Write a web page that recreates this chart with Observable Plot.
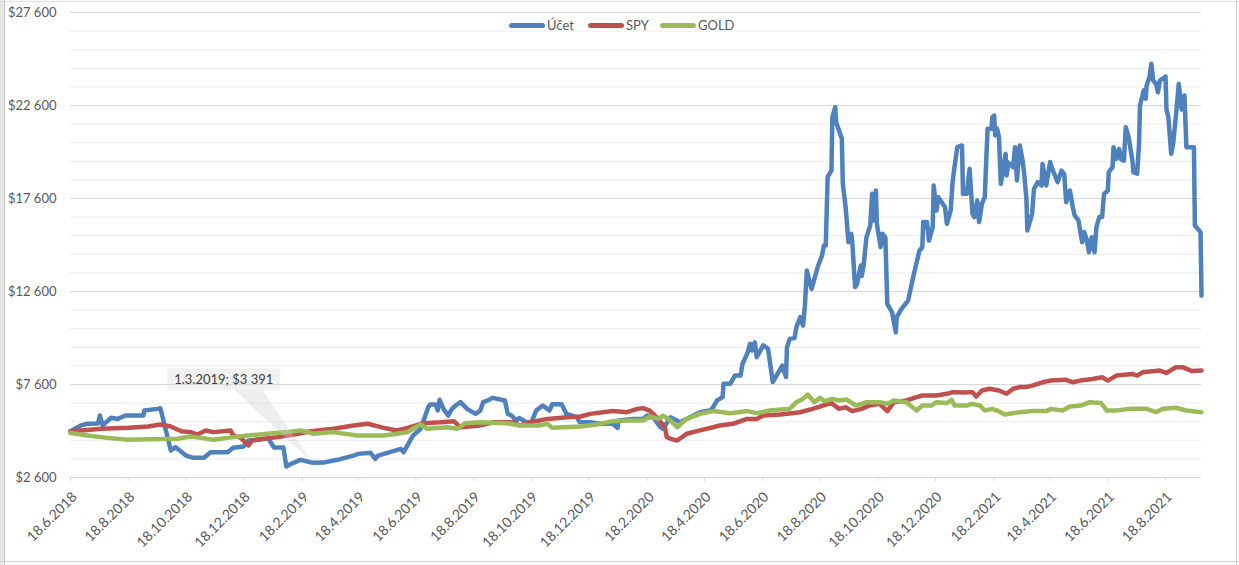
<!DOCTYPE html>
<html>
<head>
<meta charset="utf-8">
<script src="https://cdn.jsdelivr.net/npm/d3@7"></script>
<script src="https://cdn.jsdelivr.net/npm/@observablehq/plot@0.6"></script>
<style>
  body { margin: 0; background: #fff; font-family: Lato, "Open Sans", sans-serif; }
  #wrap { position: relative; width: 1239px; height: 565px; overflow: hidden; background: #fff; }
  #chart svg { position: absolute; left: 0; top: 0; }
  .legend-item { position: absolute; top: 17px; height: 16px; display: flex; align-items: center; font-size: 13px; color: #595959; white-space: nowrap; }
  .legend-swatch { width: 36px; height: 5px; border-radius: 3px; margin-right: 2px; }
  .sheet-left { position: absolute; left: 0; top: 0; width: 4px; height: 565px; background: #e6e6e6; border-right: 1px solid #c8c8c8; }
  .sheet-right { position: absolute; left: 1236px; top: 0; width: 1px; height: 565px; background: #d0d0d0; }
  .sheet-bottom { position: absolute; left: 0; top: 561px; width: 1239px; height: 1px; background: #d0d0d0; }
  .sheet-top { position: absolute; left: 0; top: 1px; width: 1239px; height: 1px; background: #e0e0e0; }
</style>
</head>
<body>
<div id="wrap">
  <div class="sheet-top"></div>
  <div class="sheet-left"></div>
  <div class="sheet-right"></div>
  <div class="sheet-bottom"></div>
  <div id="chart"></div>
</div>
<script>
// ---- Data ----
const seriesNames = ["Účet", "SPY", "GOLD"];
const seriesColors = ["#4F81BD", "#C0504D", "#9BBB59"];

const ucet = [
["2018-06-18",5090],["2018-06-29",5400],["2018-07-06",5490],["2018-07-17",5500],["2018-07-19",5930],["2018-07-22",5400],
["2018-07-31",5810],["2018-08-07",5750],["2018-08-15",5930],["2018-09-03",5930],["2018-09-04",6200],["2018-09-18",6290],
["2018-09-21",6320],["2018-10-02",4050],["2018-10-07",4230],["2018-10-18",3780],["2018-10-26",3660],["2018-11-06",3660],
["2018-11-13",3960],["2018-12-01",3960],["2018-12-07",4200],["2018-12-18",4270],["2018-12-23",4590],["2019-01-13",4700],
["2019-01-19",4210],["2019-01-29",4210],["2019-02-01",3190],["2019-02-06",3335],["2019-02-16",3550],["2019-03-01",3391],
["2019-03-12",3400],["2019-03-27",3550],["2019-04-13",3780],["2019-04-18",3870],["2019-05-01",3930],["2019-05-06",3600],
["2019-05-09",3780],["2019-06-02",4140],["2019-06-05",3960],["2019-06-15",4860],["2019-06-23",5220],["2019-07-01",6380],
["2019-07-03",6520],["2019-07-09",6520],["2019-07-11",6200],["2019-07-13",6780],["2019-07-17",6290],["2019-07-22",5930],
["2019-07-26",6290],["2019-07-30",6470],["2019-08-04",6650],["2019-08-11",6290],["2019-08-20",6020],["2019-08-25",6200],
["2019-08-28",6650],["2019-09-02",6740],["2019-09-07",6880],["2019-09-20",6740],["2019-09-23",6020],["2019-09-27",5930],
["2019-10-02",5660],["2019-10-05",5800],["2019-10-13",5570],["2019-10-18",5570],["2019-10-23",6200],["2019-10-30",6470],
["2019-11-06",6200],["2019-11-09",6540],["2019-11-19",6540],["2019-11-24",6020],["2019-12-05",5840],["2019-12-08",5570],
["2019-12-19",5570],["2019-12-30",5490],["2020-01-12",5490],["2020-01-17",5270],["2020-01-18",5660],["2020-02-02",5750],
["2020-02-13",5750],["2020-02-17",5930],["2020-02-23",5900],["2020-03-02",5310],["2020-03-05",5220],["2020-03-13",5840],
["2020-03-23",5570],["2020-04-13",6110],["2020-04-24",6200],["2020-04-27",6380],["2020-05-01",6740],["2020-05-07",6920],
["2020-05-08",7640],["2020-05-15",7640],["2020-05-20",8080],["2020-05-26",8080],["2020-05-28",8710],["2020-06-02",9250],
["2020-06-05",9790],["2020-06-07",9430],["2020-06-10",9870],["2020-06-12",9070],["2020-06-19",9700],["2020-06-24",9520],
["2020-06-29",7730],["2020-07-09",8620],["2020-07-13",8000],["2020-07-14",9600],["2020-07-17",10060],["2020-07-22",10100],
["2020-07-24",10680],["2020-07-28",11220],["2020-07-31",10770],["2020-08-02",11850],["2020-08-04",13730],["2020-08-09",12740],
["2020-08-12",13280],["2020-08-16",14000],["2020-08-20",14530],["2020-08-22",15070],["2020-08-24",15070],["2020-08-26",18750],
["2020-08-30",19110],["2020-08-31",21970],["2020-09-03",22510],["2020-09-04",21700],["2020-09-10",20810],["2020-09-11",18400],
["2020-09-14",17130],["2020-09-17",15250],["2020-09-20",15700],["2020-09-21",15250],["2020-09-24",12840],["2020-09-26",13000],
["2020-09-30",14000],["2020-10-01",13430],["2020-10-03",14000],["2020-10-06",15520],["2020-10-10",16150],["2020-10-12",17850],
["2020-10-13",16420],["2020-10-16",18030],["2020-10-17",16240],["2020-10-21",14990],["2020-10-23",15700],["2020-10-26",15500],
["2020-10-28",11940],["2020-11-02",11490],["2020-11-06",10410],["2020-11-07",11220],["2020-11-12",11670],["2020-11-19",12110],
["2020-11-24",13300],["2020-11-26",13730],["2020-12-01",14800],["2020-12-04",14980],["2020-12-05",16330],["2020-12-09",16330],
["2020-12-11",15340],["2020-12-15",16060],["2020-12-16",18300],["2020-12-19",16950],["2020-12-21",17670],["2020-12-28",17130],
["2020-12-30",16240],["2021-01-03",16950],["2021-01-05",18480],["2021-01-07",19280],["2021-01-10",20360],["2021-01-15",20450],
["2021-01-16",17850],["2021-01-20",17850],["2021-01-23",19200],["2021-01-26",16780],["2021-01-28",16600],["2021-01-31",17490],
["2021-02-02",16330],["2021-02-05",17310],["2021-02-08",17670],["2021-02-10",20180],["2021-02-11",21350],["2021-02-15",21350],
["2021-02-16",21970],["2021-02-18",22060],["2021-02-19",20990],["2021-02-21",21350],["2021-02-23",20900],["2021-02-25",18390],
["2021-03-02",20000],["2021-03-03",18840],["2021-03-05",19530],["2021-03-10",19280],["2021-03-12",20360],["2021-03-14",18570],
["2021-03-17",20450],["2021-03-20",19640],["2021-03-22",18750],["2021-03-24",17580],["2021-03-25",15880],["2021-03-28",16420],
["2021-03-30",16780],["2021-04-01",18120],["2021-04-05",18480],["2021-04-09",18300],["2021-04-10",19460],["2021-04-14",18300],
["2021-04-18",19560],["2021-04-21",19100],["2021-04-26",18480],["2021-04-30",19100],["2021-05-03",18900],["2021-05-05",17400],
["2021-05-09",18030],["2021-05-12",17130],["2021-05-14",16690],["2021-05-18",16420],["2021-05-20",15790],["2021-05-22",15250],
["2021-05-24",15800],["2021-05-27",15340],["2021-05-29",14710],["2021-06-01",15520],["2021-06-04",14710],["2021-06-06",16060],
["2021-06-09",16600],["2021-06-12",16600],["2021-06-14",17850],["2021-06-18",18030],["2021-06-19",19020],["2021-06-23",19280],
["2021-06-24",20360],["2021-06-27",19730],["2021-06-30",20270],["2021-07-02",19700],["2021-07-05",19640],["2021-07-07",21430],
["2021-07-10",20900],["2021-07-14",19640],["2021-07-15",19020],["2021-07-19",18930],["2021-07-21",20540],["2021-07-22",22600],
["2021-07-26",23420],["2021-07-28",22960],["2021-07-29",23670],["2021-08-01",24120],["2021-08-03",24840],["2021-08-05",23940],
["2021-08-08",23760],["2021-08-10",23310],["2021-08-12",23940],["2021-08-18",24160],["2021-08-19",22380],["2021-08-21",21970],
["2021-08-24",20000],["2021-08-26",20540],["2021-08-29",22060],["2021-09-01",23760],["2021-09-04",22380],["2021-09-07",23140],
["2021-09-09",20360],["2021-09-17",20360],["2021-09-18",16150],["2021-09-24",15790],["2021-09-25",12380]
];

const spy = [
["2018-06-18",5090],["2018-07-06",5160],["2018-07-20",5220],["2018-08-18",5270],["2018-09-08",5340],["2018-09-21",5450],
["2018-10-02",5340],["2018-10-13",5090],["2018-10-23",5040],["2018-10-30",4910],["2018-11-08",5130],["2018-11-16",5040],
["2018-12-04",5130],["2018-12-07",4860],["2018-12-15",4730],["2018-12-23",4320],["2018-12-27",4590],["2019-01-08",4680],
["2019-01-23",4770],["2019-02-09",4910],["2019-02-27",5090],["2019-03-23",5220],["2019-04-13",5400],["2019-04-28",5490],
["2019-05-15",5270],["2019-05-29",5130],["2019-06-09",5270],["2019-06-26",5520],["2019-07-14",5570],["2019-07-28",5630],
["2019-08-04",5300],["2019-08-25",5400],["2019-09-08",5570],["2019-09-29",5570],["2019-10-06",5400],["2019-10-17",5570],
["2019-11-04",5750],["2019-11-25",5840],["2019-12-09",5880],["2019-12-19",6020],["2020-01-12",6170],["2020-01-27",6110],
["2020-02-07",6290],["2020-02-13",6330],["2020-02-20",6200],["2020-02-29",5750],["2020-03-07",5300],["2020-03-09",4770],
["2020-03-13",4680],["2020-03-20",4590],["2020-03-30",4950],["2020-04-13",5130],["2020-04-27",5300],["2020-05-04",5400],
["2020-05-18",5490],["2020-06-02",5750],["2020-06-12",5750],["2020-06-19",5930],["2020-07-07",5990],["2020-07-28",6110],
["2020-08-10",6290],["2020-08-21",6470],["2020-08-30",6600],["2020-09-07",6290],["2020-09-14",6380],["2020-09-21",6170],
["2020-10-01",6290],["2020-10-09",6470],["2020-10-20",6560],["2020-10-28",6170],["2020-11-04",6650],["2020-11-17",6740],
["2020-11-28",6920],["2020-12-04",7010],["2020-12-19",7010],["2020-12-30",7100],["2021-01-05",7190],["2021-01-16",7170],
["2021-01-26",7190],["2021-01-30",6950],["2021-02-05",7280],["2021-02-13",7370],["2021-02-23",7280],["2021-03-03",7100],
["2021-03-10",7370],["2021-03-17",7460],["2021-03-24",7460],["2021-03-31",7550],["2021-04-10",7720],["2021-04-18",7810],
["2021-05-05",7850],["2021-05-12",7720],["2021-05-20",7810],["2021-06-02",7900],["2021-06-12",7990],["2021-06-18",7810],
["2021-06-27",8080],["2021-07-14",8170],["2021-07-19",8080],["2021-07-25",8260],["2021-08-12",8350],["2021-08-19",8220],
["2021-08-29",8530],["2021-09-05",8530],["2021-09-15",8320],["2021-09-25",8350]
];

const gold = [
["2018-06-18",4990],["2018-07-06",4860],["2018-07-27",4730],["2018-08-18",4630],["2018-09-08",4650],["2018-10-09",4680],
["2018-10-23",4800],["2018-11-03",4730],["2018-11-16",4630],["2018-12-07",4770],["2018-12-22",4860],["2019-01-12",4950],
["2019-02-02",5040],["2019-02-16",5130],["2019-03-02",4950],["2019-03-23",5040],["2019-04-17",4860],["2019-05-15",4860],
["2019-05-29",4950],["2019-06-09",5040],["2019-06-15",5220],["2019-06-23",5450],["2019-06-30",5220],["2019-07-21",5300],
["2019-08-01",5220],["2019-08-09",5520],["2019-08-25",5570],["2019-09-22",5520],["2019-10-06",5400],["2019-10-26",5400],
["2019-11-04",5490],["2019-11-09",5270],["2019-12-09",5340],["2019-12-26",5450],["2020-01-12",5630],["2020-01-30",5660],
["2020-02-13",5660],["2020-02-20",5880],["2020-02-29",5750],["2020-03-05",5930],["2020-03-13",5660],["2020-03-20",5300],
["2020-03-30",5750],["2020-04-13",6020],["2020-04-27",6170],["2020-05-15",6060],["2020-06-02",6170],["2020-06-12",6060],
["2020-06-26",6200],["2020-07-17",6300],["2020-07-24",6650],["2020-07-31",6830],["2020-08-05",7060],["2020-08-12",6650],
["2020-08-18",6880],["2020-08-23",6700],["2020-08-31",6830],["2020-09-07",6740],["2020-09-15",6790],["2020-09-25",6470],
["2020-10-06",6650],["2020-10-20",6650],["2020-10-28",6560],["2020-11-04",6740],["2020-11-17",6650],["2020-11-28",6200],
["2020-12-04",6470],["2020-12-14",6470],["2020-12-19",6650],["2020-12-30",6600],["2021-01-04",6780],["2021-01-07",6470],
["2021-01-20",6470],["2021-01-25",6560],["2021-02-03",6470],["2021-02-08",6200],["2021-02-16",6290],["2021-02-21",6200],
["2021-03-01",5990],["2021-03-17",6110],["2021-03-31",6170],["2021-04-14",6170],["2021-04-19",6290],["2021-05-01",6200],
["2021-05-09",6420],["2021-05-20",6470],["2021-05-30",6650],["2021-06-11",6600],["2021-06-17",6200],["2021-06-27",6200],
["2021-07-11",6290],["2021-07-29",6290],["2021-08-08",6110],["2021-08-15",6290],["2021-08-29",6350],["2021-09-09",6200],
["2021-09-25",6110]
];

const xTickDates = ["2018-06-18","2018-08-18","2018-10-18","2018-12-18","2019-02-18","2019-04-18","2019-06-18",
  "2019-08-18","2019-10-18","2019-12-18","2020-02-18","2020-04-18","2020-06-18","2020-08-18","2020-10-18",
  "2020-12-18","2021-02-18","2021-04-18","2021-06-18","2021-08-18"];
const yTickValues = [2600, 7600, 12600, 17600, 22600, 27600];
const xDomain = ["2018-06-18", "2021-09-25"];

const annoDate = "2019-03-01";
const annoValue = 3391;

// ---- Build ----
const toRows = (arr, name) => arr.map(([d, v]) => ({date: new Date(d + "T00:00:00Z"), value: v, series: name}));
const rows = [toRows(ucet, seriesNames[0]), toRows(spy, seriesNames[1]), toRows(gold, seriesNames[2])];

const locale = d3.formatLocale({decimal: ",", thousands: " ", grouping: [3], currency: ["$", ""]});
const money = locale.format("$,.0f");
const dateFmt = d => `${d.getUTCDate()}.${d.getUTCMonth() + 1}.${d.getUTCFullYear()}`;

const minorGrid = d3.range(yTickValues[0], yTickValues[yTickValues.length - 1] + 1, 1000);

function annotation(index, scales) {
  const px = scales.x(new Date(annoDate + "T00:00:00Z"));
  const py = scales.y(annoValue);
  const g = d3.create("svg:g");
  g.append("path")
    .attr("d", `M${px - 78},${py - 72} L${px - 50},${py - 72} L${px},${py} Z`)
    .attr("fill", "#cfcfcf").attr("fill-opacity", 0.35);
  g.append("rect")
    .attr("x", px - 145).attr("y", py - 94).attr("width", 113).attr("height", 22)
    .attr("fill", "#cfcfcf").attr("fill-opacity", 0.3);
  g.append("text")
    .attr("x", px - 88.5).attr("y", py - 83)
    .attr("text-anchor", "middle").attr("dy", "0.35em")
    .attr("fill", "#404040").attr("font-size", 13)
    .text(`${dateFmt(new Date(annoDate + "T00:00:00Z"))}; ${money(annoValue)}`);
  return g.node();
}

const lineOpts = (color) => ({x: "date", y: "value", stroke: color, strokeWidth: 4.5, strokeLinejoin: "round", strokeLinecap: "round"});

const chart = Plot.plot({
  width: 1239,
  height: 565,
  marginLeft: 70,
  marginRight: 38,
  marginTop: 12,
  marginBottom: 88,
  style: {fontFamily: "Lato, 'Open Sans', sans-serif", fontSize: "13px", color: "#595959", background: "transparent", overflow: "visible"},
  x: {type: "utc", domain: xDomain.map(d => new Date(d + "T00:00:00Z"))},
  y: {domain: [yTickValues[0], yTickValues[yTickValues.length - 1]]},
  marks: [
    Plot.ruleY(minorGrid, {stroke: "#ececec", strokeWidth: 1}),
    Plot.ruleY(yTickValues, {stroke: "#d9d9d9", strokeWidth: 1}),
    Plot.axisY({ticks: yTickValues, tickFormat: money, tickSize: 0, tickPadding: 14, label: null, fill: "#595959"}),
    Plot.axisX({ticks: xTickDates.map(d => new Date(d + "T00:00:00Z")), tickFormat: dateFmt, tickRotate: -45,
      tickSize: 4, tickPadding: 4, label: null, stroke: "#d9d9d9", fill: "#595959", fontSize: 14}),
    Plot.line(rows[0], lineOpts(seriesColors[0])),
    Plot.line(rows[1], lineOpts(seriesColors[1])),
    Plot.line(rows[2], lineOpts(seriesColors[2])),
    annotation
  ]
});
document.getElementById("chart").appendChild(chart);

// Shift rotated x labels slightly down/right to match the reference placement
d3.select(chart).selectAll('g[aria-label="x-axis tick label"] text')
  .attr("transform", function() {
    const t = this.getAttribute("transform") || "";
    return "translate(4,9) " + t;
  });

// Legend (HTML overlay above the plot area)
const legendLefts = [509, 588, 660];
const wrap = document.getElementById("wrap");
seriesNames.forEach((name, i) => {
  const item = document.createElement("div");
  item.className = "legend-item";
  item.style.left = legendLefts[i] + "px";
  const sw = document.createElement("span");
  sw.className = "legend-swatch";
  sw.style.background = seriesColors[i];
  const tx = document.createElement("span");
  tx.textContent = name;
  item.appendChild(sw);
  item.appendChild(tx);
  wrap.appendChild(item);
});
</script>
</body>
</html>
